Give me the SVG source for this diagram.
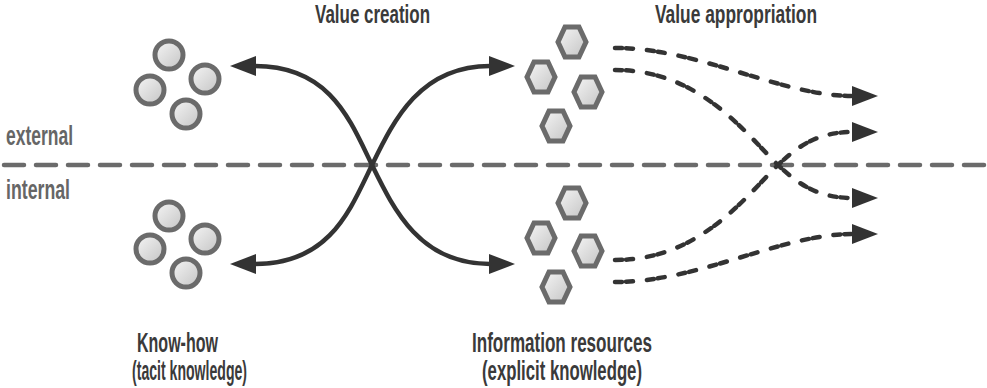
<svg xmlns="http://www.w3.org/2000/svg" width="987" height="388" viewBox="0 0 987 388">
<style>
.t{font-family:"Liberation Sans Narrow","Liberation Sans","DejaVu Sans Condensed",sans-serif;font-weight:bold;font-size:27px;fill:#3a3a3a}
.h{font-size:25px}
.g{fill:#666}
.c{fill:url(#gr);stroke:#6b6b6b;stroke-width:5}
.sol{fill:none;stroke:#333;stroke-width:4.5}
.das{fill:none;stroke:#333;stroke-width:4.5;stroke-linecap:round;stroke-dasharray:7 4 7 14}
.ah{fill:#333}
.axis{fill:none;stroke:#6b6b6b;stroke-width:4.5;stroke-linecap:round;stroke-dasharray:20 12}
</style>
<defs>
<linearGradient id="gr" x1="0" y1="0" x2="1" y2="1">
<stop offset="0" stop-color="#f6f6f6"/>
<stop offset="1" stop-color="#c4c4c4"/>
</linearGradient>
<polygon id="hx" points="-7,-15 7,-15 14,0 7,15 -7,15 -14,0"/>
</defs>
<g id="divider"><path class="axis" d="M4,165 H987"/></g>
<g id="label-external"><text class="t g" x="6" y="145" textLength="67" lengthAdjust="spacingAndGlyphs">external</text></g>
<g id="label-internal"><text class="t g" x="6" y="199" textLength="64" lengthAdjust="spacingAndGlyphs">internal</text></g>
<g id="title-creation"><text class="t h" x="315" y="23" textLength="115" lengthAdjust="spacingAndGlyphs">Value creation</text></g>
<g id="title-appropriation"><text class="t h" x="655" y="23" textLength="162" lengthAdjust="spacingAndGlyphs">Value appropriation</text></g>
<g id="knowhow-external">
<circle class="c" cx="169" cy="55" r="14"/>
<circle class="c" cx="150" cy="90" r="14"/>
<circle class="c" cx="205" cy="79" r="14"/>
<circle class="c" cx="186" cy="114" r="14"/>
</g>
<g id="knowhow-internal">
<circle class="c" cx="169" cy="216" r="14"/>
<circle class="c" cx="150" cy="249" r="14"/>
<circle class="c" cx="205" cy="239" r="14"/>
<circle class="c" cx="186" cy="273" r="14"/>
</g>
<g id="info-external">
<use href="#hx" class="c" x="572" y="42"/>
<use href="#hx" class="c" x="541" y="77"/>
<use href="#hx" class="c" x="588" y="92"/>
<use href="#hx" class="c" x="556" y="126"/>
</g>
<g id="info-internal">
<use href="#hx" class="c" x="572" y="203"/>
<use href="#hx" class="c" x="541" y="238"/>
<use href="#hx" class="c" x="588" y="251"/>
<use href="#hx" class="c" x="556" y="287"/>
</g>
<g id="label-knowhow">
<text class="t" x="137" y="352" textLength="81" lengthAdjust="spacingAndGlyphs">Know-how</text>
<text class="t" x="132" y="380" textLength="115" lengthAdjust="spacingAndGlyphs">(tacit knowledge)</text>
</g>
<g id="label-info">
<text class="t" x="472" y="352" textLength="180" lengthAdjust="spacingAndGlyphs">Information resources</text>
<text class="t" x="482" y="380" textLength="160" lengthAdjust="spacingAndGlyphs">(explicit knowledge)</text>
</g>
<g id="connectors">
<path class="sol" d="M255,66 C330,66 350,120 372,165 C394,210 420,264 490,264"/>
<path class="sol" d="M255,264 C330,264 350,210 372,165 C394,120 420,66 490,66"/>
<polygon class="ah" points="230,66 256,56 256,76"/>
<polygon class="ah" points="230,264 256,254 256,274"/>
<polygon class="ah" points="515,66 489,56 489,76"/>
<polygon class="ah" points="515,264 489,254 489,274"/>
<path class="das" d="M615,48 C700,48 780,96 853,96"/>
<path class="das" d="M615,70 C700,70 745,133 778,165 C800,186 820,198 853,198"/>
<path class="das" d="M615,260 C700,260 745,197 778,165 C800,144 820,132 853,132"/>
<path class="das" d="M615,282 C700,282 780,234 853,234"/>
<polygon class="ah" points="878,96 852,86 852,106"/>
<polygon class="ah" points="878,132 852,122 852,142"/>
<polygon class="ah" points="878,198 852,188 852,208"/>
<polygon class="ah" points="878,234 852,224 852,244"/>
</g>
</svg>
